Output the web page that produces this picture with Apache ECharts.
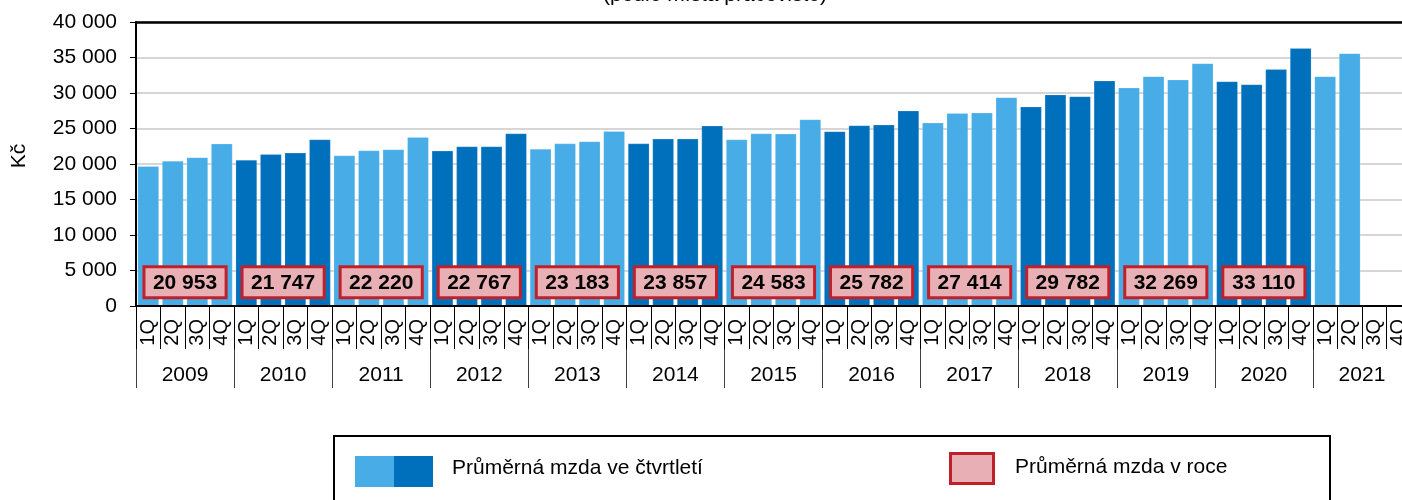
<!DOCTYPE html>
<html>
<head>
<meta charset="utf-8">
<script src="https://cdn.jsdelivr.net/npm/echarts@6/dist/echarts.min.js"></script>
<style>
html,body{margin:0;padding:0;background:#fff;}
#chart{width:1402px;height:500px;}
</style>
</head>
<body>
<div id="chart"></div>
<script>
const years = ['2009','2010','2011','2012','2013','2014','2015','2016','2017','2018','2019','2020','2021'];
const quarters = ['1Q','2Q','3Q','4Q'];
const quarterlyWage = [
  19680, 20440, 20910, 22840,
  20580, 21370, 21570, 23450,
  21190, 21900, 22040, 23770,
  21850, 22460, 22460, 24290,
  22130, 22880, 23160, 24620,
  22880, 23540, 23540, 25380,
  23450, 24290, 24250, 26270,
  24580, 25420, 25520, 27500,
  25800, 27160, 27210, 29380,
  28060, 29750, 29520, 31730,
  30740, 32340, 31870, 34170,
  31630, 31210, 33330, 36290,
  32340, 35580, null, null
];
const annualWage = [20953, 21747, 22220, 22767, 23183, 23857, 24583, 25782, 27414, 29782, 32269, 33110];
const yTicks = [0, 5000, 10000, 15000, 20000, 25000, 30000, 35000, 40000];
const titleText = '(podle místa pracoviště)';
const yName = 'Kč';
const legendQuarter = 'Průměrná mzda ve čtvrtletí';
const legendYear = 'Průměrná mzda v roce';

const LIGHT = '#48ADE6';
const DARK = '#0070BC';
const PINK = '#E8B0B4';
const RED = '#C0202A';
const FONT = '"Liberation Sans", Arial, Helvetica, sans-serif';

function fmt(n) {
  return String(n).replace(/\B(?=(\d{3})+(?!\d))/g, ' ');
}

const categories = [];
years.forEach(y => quarters.forEach(q => categories.push(y + '-' + q)));

const barData = quarterlyWage.map((v, i) => {
  const yearIdx = Math.floor(i / 4);
  return { value: v, itemStyle: { color: yearIdx % 2 === 0 ? LIGHT : DARK } };
});

const boxData = annualWage.map((v, i) => [i * 4, v]);

const chart = echarts.init(document.getElementById('chart'), null, { renderer: 'canvas' });

chart.setOption({
  animation: false,
  textStyle: { fontFamily: FONT },
  grid: {
    left: 136, width: 1275, top: 22, height: 284,
    containLabel: false, outerBoundsMode: 'none',
    show: false
  },
  xAxis: [
    {
      type: 'category',
      data: categories,
      position: 'bottom',
      axisLine: { show: true, lineStyle: { color: '#000', width: 2 } },
      axisTick: { show: true, length: 43, interval: 0, lineStyle: { color: '#000', width: 1 } },
      axisLabel: {
        interval: 0, rotate: 90, margin: 13, fontSize: 20, color: '#000', fontFamily: FONT,
        hideOverlap: false,
        formatter: v => v.split('-')[1]
      },
      splitLine: { show: false },
      z: 10
    },
    {
      type: 'category',
      data: years,
      position: 'bottom',
      axisLine: { show: false },
      axisTick: { show: true, length: 82, interval: 0, lineStyle: { color: '#404040', width: 1 } },
      axisLabel: { interval: 0, margin: 59, fontSize: 21, color: '#000', fontFamily: FONT },
      splitLine: { show: false }
    },
    {
      type: 'category',
      data: years,
      position: 'top',
      axisLine: { show: true, lineStyle: { color: '#000', width: 2.5 } },
      axisTick: { show: false },
      axisLabel: { show: false },
      splitLine: { show: false },
      z: 10
    }
  ],
  yAxis: {
    type: 'value',
    min: yTicks[0], max: yTicks[yTicks.length - 1], interval: 5000,
    axisLine: { show: true, lineStyle: { color: '#000', width: 2 } },
    axisTick: { show: true, length: 6, lineStyle: { color: '#000', width: 1 } },
    axisLabel: { fontSize: 21, color: '#000', margin: 19, fontFamily: FONT, formatter: v => fmt(v) },
    splitLine: { show: true, lineStyle: { color: '#C8C8C8', width: 1.5 } }
  },
  series: [
    {
      type: 'bar',
      xAxisIndex: 0,
      data: barData,
      barCategoryGap: '13%',
      itemStyle: { borderColor: 'rgba(255,255,255,0.35)', borderWidth: 0.5 },
      z: 2
    },
    {
      type: 'custom',
      xAxisIndex: 0,
      data: boxData,
      z: 5,
      renderItem: function (params, api) {
        const i0 = api.value(0);
        const x1 = api.coord([i0, 0])[0];
        const x2 = api.coord([i0 + 3, 0])[0];
        const cx = (x1 + x2) / 2;
        const bw = api.size([1, 0])[0];
        const w = bw * 3.35;
        const yTop = api.coord([i0, 5530])[1];
        const yBot = api.coord([i0, 1160])[1];
        return {
          type: 'group',
          children: [
            {
              type: 'rect',
              shape: { x: cx - w / 2, y: yTop, width: w, height: yBot - yTop },
              style: { fill: PINK, stroke: RED, lineWidth: 3 }
            },
            {
              type: 'text',
              style: {
                text: fmt(api.value(1)), x: cx, y: (yTop + yBot) / 2 + 1,
                align: 'center', verticalAlign: 'middle',
                fill: '#000', font: 'bold 21px ' + FONT
              }
            }
          ]
        };
      }
    }
  ],
  graphic: [
    {
      type: 'text', x: 715, y: -5,
      style: { text: titleText, align: 'center', verticalAlign: 'middle', fill: '#000', font: '21px ' + FONT }
    },
    {
      type: 'text', x: 19, y: 156, rotation: Math.PI / 2,
      style: { text: yName, align: 'center', verticalAlign: 'middle', fill: '#000', font: '21px ' + FONT }
    },
    {
      type: 'rect', shape: { x: 334, y: 436, width: 996, height: 100 },
      style: { fill: 'none', stroke: '#000', lineWidth: 2 }
    },
    { type: 'rect', shape: { x: 355, y: 456, width: 39, height: 31 }, style: { fill: LIGHT } },
    { type: 'rect', shape: { x: 394, y: 456, width: 39, height: 31 }, style: { fill: DARK } },
    {
      type: 'text', x: 452, y: 468,
      style: { text: legendQuarter, align: 'left', verticalAlign: 'middle', fill: '#000', font: '21px ' + FONT }
    },
    {
      type: 'rect', shape: { x: 950.5, y: 453.5, width: 43, height: 30 },
      style: { fill: PINK, stroke: RED, lineWidth: 3 }
    },
    {
      type: 'text', x: 1015, y: 467,
      style: { text: legendYear, align: 'left', verticalAlign: 'middle', fill: '#000', font: '21px ' + FONT }
    }
  ]
});
</script>
</body>
</html>
